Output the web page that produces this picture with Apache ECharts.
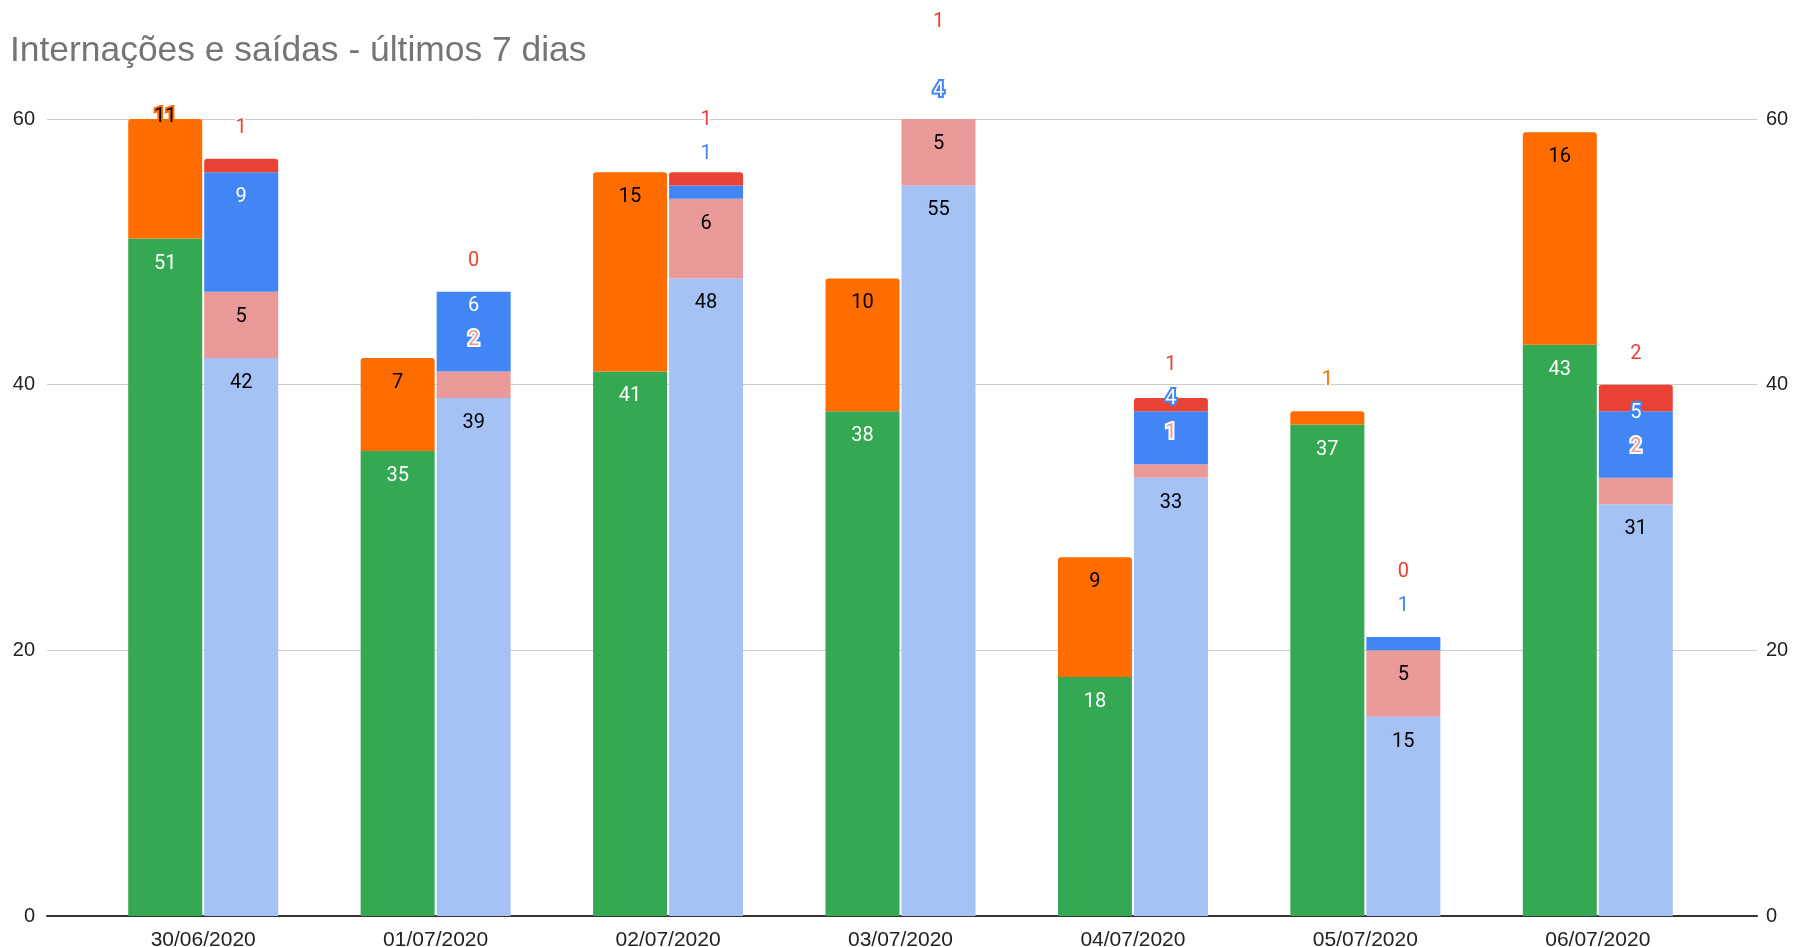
<!DOCTYPE html>
<html>
<head>
<meta charset="utf-8">
<script src="https://cdn.jsdelivr.net/npm/echarts@6/dist/echarts.min.js"></script>
<style>
html,body{margin:0;padding:0;background:#fff;}
#c{width:1793px;height:947px;}
</style>
</head>
<body>
<div id="c"></div>
<script>
// ---- data ----
const categories = ['30/06/2020','01/07/2020','02/07/2020','03/07/2020','04/07/2020','05/07/2020','06/07/2020'];
// left stack (bottom -> top)
const serieVerde    = [51, 35, 41, 38, 18, 37, 43];
const serieLaranja  = [11,  7, 15, 10,  9,  1, 16];
// right stack (bottom -> top)
const serieAzulClaro = [42, 39, 48, 55, 33, 15, 31];
const serieRosa      = [ 5,  2,  6,  5,  1,  5,  2];
const serieAzul      = [ 9,  6,  1,  4,  4,  1,  5];
const serieVermelha  = [ 1,  0,  1,  1,  1,  0,  2];
const yTicks = [0, 20, 40, 60];

// ---- styles ----
const COL = {verde:'#34A853', laranja:'#FF6D01', azulClaro:'#A4C2F4', rosa:'#EA9999', azul:'#4285F4', vermelha:'#EA4335'};
const stacks = [
  [ {name:'verde', data:serieVerde, color:COL.verde, ink:'#ffffff'},
    {name:'laranja', data:serieLaranja, color:COL.laranja, ink:'#000000', top:true} ],
  [ {name:'azulClaro', data:serieAzulClaro, color:COL.azulClaro, ink:'#000000'},
    {name:'rosa', data:serieRosa, color:COL.rosa, ink:'#000000'},
    {name:'azul', data:serieAzul, color:COL.azul, ink:'#ffffff'},
    {name:'vermelha', data:serieVermelha, color:COL.vermelha, ink:'#ffffff', top:true} ]
];
const BAR_W = 74, GAP = 2, HALF = (BAR_W + GAP) / 2;
const AXIS_FONT = "'Liberation Sans', Arial, sans-serif";

function layoutStack(vals, yPix) {
  let cum = 0; const out = [];
  for (const v of vals) {
    const top = yPix(cum + v), bottom = yPix(cum);
    const h = bottom - top;
    if (h >= 40) out.push({y: top + 25, inside: true});
    else out.push({y: top - 31, inside: false});
    cum += v;
  }
  for (let k = 1; k < out.length; k++) {
    const lim = out[k - 1].y - 34;
    if (out[k].y > lim) out[k].y = lim;
  }
  return out;
}

const series = [];
stacks.forEach((segs, side) => {
  segs.forEach(s => {
    series.push({
      type: 'bar', name: s.name, stack: side === 0 ? 'esq' : 'dir',
      xAxisIndex: 1, yAxisIndex: 2,
      data: s.data, barWidth: BAR_W, barGap: (GAP / BAR_W * 100).toFixed(1) + '%',
      itemStyle: {color: s.color, borderRadius: s.top ? [3, 3, 0, 0] : 0},
      emphasis: {disabled: true}, silent: true, animation: false
    });
  });
});

const labelItems = [];
categories.forEach((c, i) => {
  stacks.forEach((segs, side) => segs.forEach((s, k) => labelItems.push([i, side, k])));
});

series.push({
  type: 'custom', xAxisIndex: 1, yAxisIndex: 2, silent: true, z: 10, clip: false, animation: false,
  data: labelItems,
  renderItem(params, api) {
    const cat = api.value(0), side = api.value(1), k = api.value(2);
    const segs = stacks[side];
    const vals = segs.map(s => s.data[cat]);
    const lay = layoutStack(vals, v => api.coord([cat, v])[1]);
    const cx = api.coord([cat, 0])[0] + (side === 0 ? -HALF : HALF);
    const L = lay[k], s = segs[k];
    return {
      type: 'text', x: cx, y: L.y,
      style: {
        legacy: false,
        text: String(vals[k]),
        fill: L.inside ? s.ink : s.color,
        stroke: L.inside ? s.color : '#ffffff',
        lineWidth: 4,
        font: "20px Roboto, 'Liberation Sans', sans-serif",
        align: 'center', verticalAlign: 'middle'
      }
    };
  }
});

const chart = echarts.init(document.getElementById('c'), null, {renderer: 'canvas'});
chart.setOption({
  animation: false,
  backgroundColor: '#ffffff',
  title: {
    text: 'Internações e saídas - últimos 7 dias', left: 5, top: 29,
    textStyle: {fontSize: 35.4, fontWeight: 'normal', color: '#757575', fontFamily: AXIS_FONT}
  },
  grid: [
    {left: 47, right: 36, top: 119, bottom: 31, containLabel: false, outerBoundsMode: 'none'},
    {left: 87, right: 79, top: 119, bottom: 31, containLabel: false, outerBoundsMode: 'none'}
  ],
  xAxis: [
    {gridIndex: 0, type: 'value', min: 0, max: 1, position: 'bottom',
     axisLine: {show: true, onZero: false, lineStyle: {color: '#333333', width: 2}},
     axisTick: {show: false}, axisLabel: {show: false}, splitLine: {show: false}},
    {gridIndex: 1, type: 'category', data: categories,
     axisLine: {show: false}, axisTick: {show: false}, splitLine: {show: false},
     axisLabel: {fontSize: 21, color: '#222222', margin: 14, fontFamily: AXIS_FONT, interval: 0}}
  ],
  yAxis: [
    {gridIndex: 0, type: 'value', position: 'left',
     min: yTicks[0], max: yTicks[yTicks.length - 1], interval: yTicks[1] - yTicks[0],
     axisLine: {show: false}, axisTick: {show: false},
     axisLabel: {fontSize: 20, color: '#222222', margin: 12, fontFamily: AXIS_FONT},
     splitLine: {show: true, lineStyle: {color: '#cccccc', width: 1}}},
    {gridIndex: 0, type: 'value', position: 'right',
     min: yTicks[0], max: yTicks[yTicks.length - 1], interval: yTicks[1] - yTicks[0],
     axisLine: {show: false}, axisTick: {show: false},
     axisLabel: {fontSize: 20, color: '#222222', margin: 9, fontFamily: AXIS_FONT},
     splitLine: {show: false}},
    {gridIndex: 1, type: 'value', show: false,
     min: yTicks[0], max: yTicks[yTicks.length - 1], interval: yTicks[1] - yTicks[0],
     splitLine: {show: false}}
  ],
  series: series
});
</script>
</body>
</html>
